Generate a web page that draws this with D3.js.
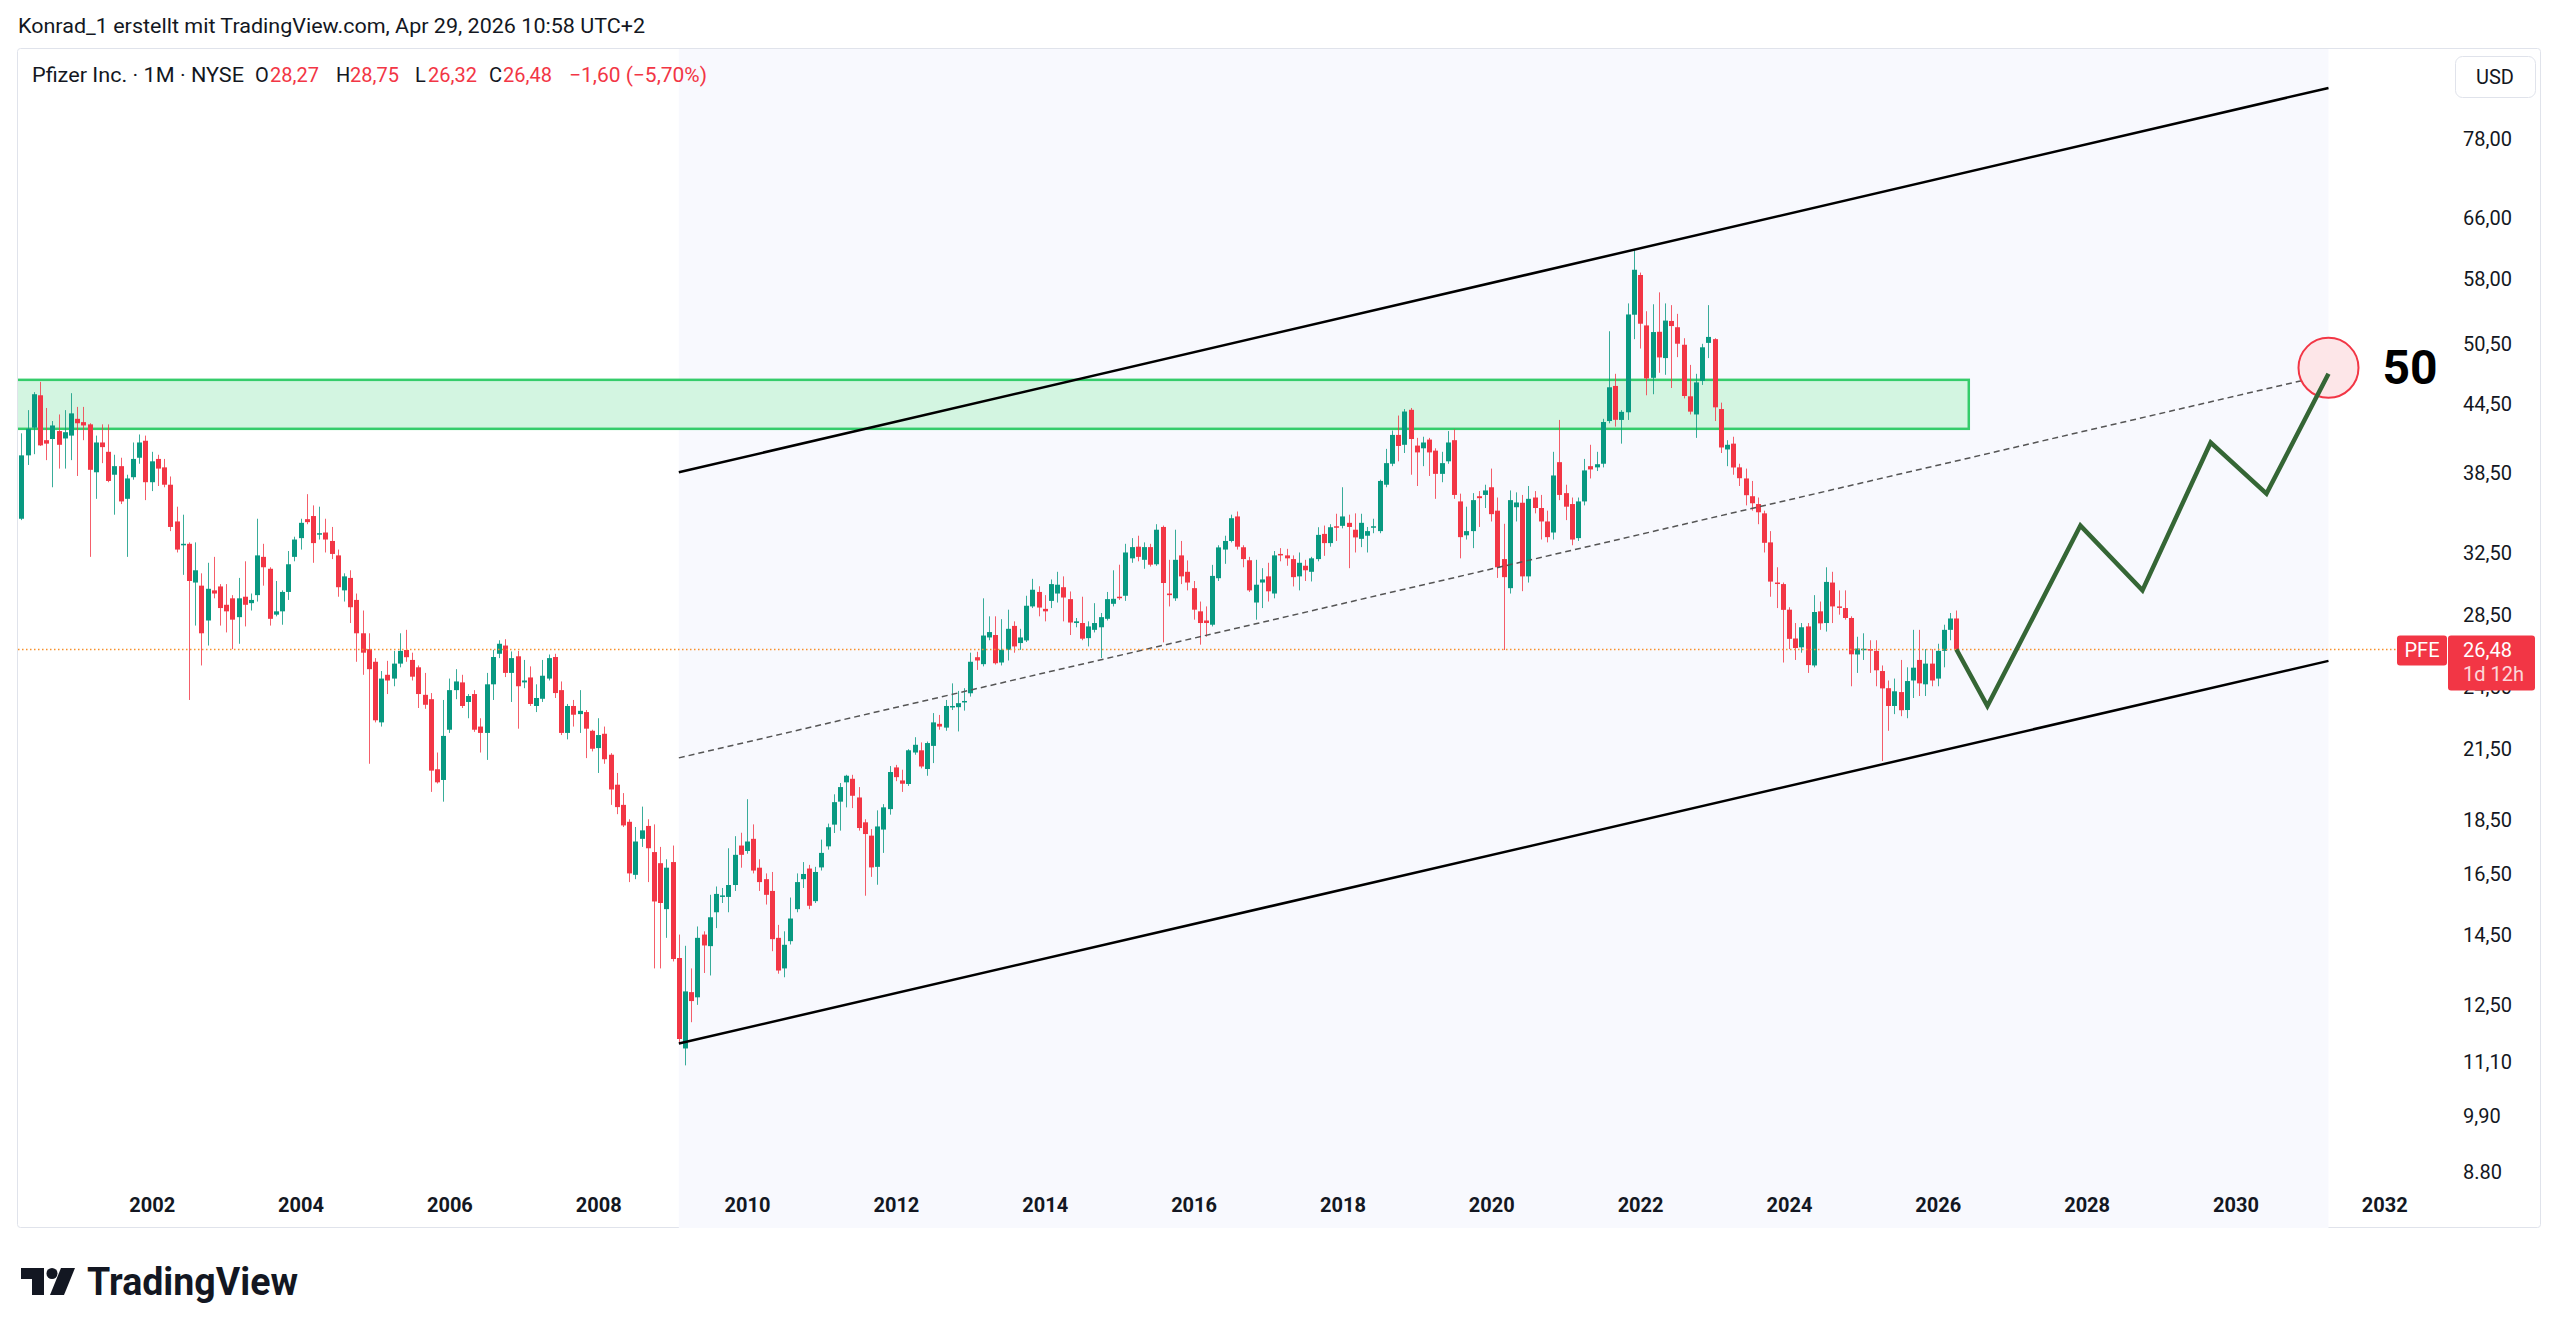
<!DOCTYPE html>
<html>
<head>
<meta charset="utf-8">
<script src="https://cdn.jsdelivr.net/npm/d3@7"></script>
<style>
  body { margin: 0; background: #fff; }
  svg text { font-family: Roboto, "Noto Sans", sans-serif; }
</style>
</head>
<body>
<svg id="chart" width="2560" height="1335"></svg>
<script>
// monthly bars, first bar = April 2000
var startYear = 2000, startMonth = 3;

var opens = [
  34.9, 39.9, 42.3, 45.3, 41.2, 41.3, 42.0, 41.35, 41.6,
  43.1, 42.8, 42.6, 38.5, 41.0, 40.2, 38.3, 39.0, 36.4, 38.1, 39.7, 41.15,
  37.7, 39.6, 38.9, 37.5, 34.7, 33.0, 33.1, 30.5, 30.3, 28.15, 30.0, 30.25,
  29.1, 29.5, 28.35, 29.6, 29.2, 29.7, 32.2, 31.4, 28.5, 28.7, 29.9, 32.2,
  33.5, 34.87, 35.1, 33.75, 33.9, 33.3, 32.3, 30.0, 30.8, 29.4, 27.4, 26.5,
  25.8, 22.7, 25.1, 24.9, 25.7, 26.45, 25.9, 25.5, 24.06, 23.84, 20.56, 20.1,
  22.35, 24.3, 24.7, 23.7, 24.1, 22.5, 22.2, 24.6, 26.24, 26.7, 25.2, 26.1,
  24.7, 24.96, 23.5, 23.86, 24.9, 26.06, 24.3, 22.2, 23.5, 23.1, 23.2, 22.3,
  21.5, 22.16, 21.2, 19.9, 19.07, 18.4, 16.45, 17.75, 18.24, 17.26, 16.86, 15.3,
  16.9, 13.8, 11.4, 12.84, 12.7, 14.5, 14.15, 15.2, 15.7, 15.7, 16.1, 17.5,
  17.3, 17.75, 16.7, 16.3, 15.9, 14.4, 13.5, 14.3, 15.3, 16.3, 16.67, 15.56,
  16.71, 17.47, 18.29, 19.2, 20.0, 20.15, 19.37, 18.38, 17.87, 16.73, 18.1, 18.9,
  20.64, 20.08, 19.93, 21.3, 21.4, 20.57, 21.6, 22.63, 22.45, 23.47, 23.44, 23.7,
  24.14, 26.05, 25.67, 27.16, 27.3, 25.76, 26.46, 27.83, 26.84, 26.99, 29.0, 29.9,
  28.85, 29.34, 29.8, 30.2, 29.45, 28.0, 28.0, 27.12, 27.6, 27.75, 28.25, 29.16,
  29.6, 29.66, 32.1, 32.9, 32.0, 32.87, 31.7, 34.3, 29.8, 29.5, 32.3, 31.2,
  30.14, 28.7, 28.15, 27.9, 30.78, 32.7, 33.3, 35.07, 32.86, 31.97, 29.24, 30.5,
  30.9, 29.8, 32.4, 32.3, 32.05, 30.9, 31.6, 31.2, 32.05, 33.8, 33.15, 34.35,
  34.38, 34.6, 34.1, 33.45, 33.67, 34.3, 34.0, 37.5, 39.2, 41.66, 40.8, 43.93,
  40.73, 40.5, 41.25, 40.3, 38.37, 39.4, 41.2, 36.2, 33.7, 34.0, 36.6, 36.7,
  37.3, 35.5, 32.05, 30.14, 35.76, 36.1, 30.9, 36.5, 35.7, 34.7, 33.9, 39.33,
  36.84, 36.0, 33.5, 36.2, 39.0, 38.9, 39.2, 42.9, 46.2, 43.0, 43.7, 53.7,
  58.4, 52.5, 47.0, 51.8, 49.0, 53.0, 52.3, 50.4, 45.2, 43.5, 46.7, 50.6,
  51.0, 44.0, 40.4, 40.9, 38.9, 38.0, 36.6, 36.0, 35.3, 33.2, 30.5, 30.4,
  28.8, 27.1, 26.6, 27.8, 25.6, 28.7, 28.0, 30.5, 29.0, 28.9, 28.3, 26.2,
  26.5, 26.5, 26.4, 25.3, 24.4, 23.5, 24.2, 23.3, 24.8, 25.9, 24.6, 25.7,
  24.9, 26.4, 27.6, 28.27
];

var highs = [
  41.8, 43.9, 45.6, 46.6, 44.1, 42.9, 43.5, 43.9, 45.5,
  44.2, 44.2, 42.7, 41.6, 42.6, 42.6, 39.95, 39.7, 38.3, 41.0, 41.7, 41.6,
  40.2, 39.95, 39.6, 38.16, 35.8, 35.2, 33.2, 33.2, 31.1, 31.8, 32.2, 30.4,
  30.4, 29.7, 30.8, 31.9, 29.8, 34.9, 33.1, 31.5, 30.6, 30.0, 32.6, 33.6,
  34.9, 36.76, 35.9, 35.8, 34.9, 34.3, 32.7, 31.1, 31.3, 29.8, 28.75, 27.4,
  26.0, 25.3, 25.85, 26.4, 27.4, 27.6, 26.3, 25.6, 25.2, 24.15, 21.3, 23.8,
  24.9, 25.4, 25.1, 24.1, 24.3, 22.9, 25.2, 26.46, 27.0, 27.06, 26.37, 26.4,
  25.9, 25.55, 24.6, 25.9, 26.2, 26.24, 24.75, 23.6, 23.8, 24.3, 23.3, 22.35,
  22.9, 22.5, 21.27, 20.4, 19.55, 18.5, 18.2, 19.0, 18.5, 18.3, 17.45, 17.0,
  17.5, 14.5, 14.16, 13.5, 14.75, 14.6, 15.77, 16.05, 16.0, 17.4, 17.85, 17.98,
  19.3, 18.3, 17.0, 16.5, 16.55, 14.8, 14.6, 15.68, 16.5, 16.9, 16.8, 16.73,
  17.72, 18.33, 19.5, 19.97, 20.32, 20.32, 19.8, 18.5, 18.12, 18.85, 19.1, 20.7,
  20.75, 20.54, 21.45, 22.0, 21.76, 21.8, 23.15, 23.06, 23.8, 24.65, 24.26, 24.4,
  26.3, 26.35, 29.5, 28.4, 28.4, 28.23, 28.8, 28.1, 27.66, 29.66, 30.74, 30.26,
  29.7, 30.7, 31.2, 30.9, 29.93, 28.3, 29.6, 28.1, 29.2, 28.6, 29.9, 31.3,
  31.67, 33.1, 33.5, 33.67, 33.2, 33.1, 34.5, 34.4, 32.0, 34.1, 33.3, 31.96,
  30.6, 29.3, 29.0, 31.66, 33.0, 33.67, 35.2, 35.44, 33.0, 32.2, 32.0, 31.44,
  31.8, 32.6, 32.8, 32.75, 32.3, 32.5, 32.0, 32.2, 34.28, 34.4, 34.5, 35.27,
  37.3, 35.2, 35.3, 35.27, 34.3, 34.9, 37.9, 40.45, 42.05, 43.4, 44.0, 44.1,
  41.4, 41.5, 41.4, 40.5, 40.2, 42.0, 42.17, 36.8, 35.8, 36.84, 37.0, 37.5,
  38.8, 36.5, 34.53, 37.05, 36.9, 36.7, 37.4, 37.0, 36.7, 35.5, 40.2, 43.0,
  37.5, 36.5, 36.5, 39.6, 40.8, 40.2, 43.1, 51.86, 47.4, 43.9, 55.0, 61.71,
  58.7, 54.1, 54.9, 56.3, 55.0, 54.8, 53.8, 51.1, 48.3, 47.4, 50.5, 54.8,
  51.1, 44.6, 41.2, 41.5, 39.2, 38.8, 37.8, 36.5, 35.5, 34.0, 31.5, 30.5,
  28.95, 28.0, 28.0, 28.0, 29.7, 29.3, 31.5, 31.2, 30.0, 30.0, 28.4, 27.2,
  27.4, 27.0, 27.0, 25.6, 24.8, 24.9, 25.9, 25.5, 27.6, 27.6, 26.5, 26.5,
  26.8, 27.9, 28.6, 28.75
];

var lows = [
  34.8, 39.1, 40.0, 40.7, 39.5, 37.3, 38.8, 38.8, 39.5,
  38.2, 41.2, 32.2, 36.4, 39.25, 37.7, 35.2, 36.0, 32.2, 37.9, 39.2, 36.3,
  37.0, 37.4, 37.3, 34.0, 32.5, 31.0, 23.8, 27.85, 25.6, 26.7, 29.5, 27.85,
  27.45, 26.5, 26.8, 27.8, 28.75, 29.3, 30.3, 27.85, 28.4, 27.9, 29.4, 31.9,
  32.7, 34.5, 31.8, 33.4, 32.5, 32.05, 29.6, 29.3, 28.0, 25.8, 25.1, 20.8,
  22.7, 22.5, 24.1, 24.5, 25.5, 25.8, 24.8, 23.4, 23.36, 19.6, 19.95, 19.2,
  22.2, 23.84, 23.4, 22.9, 22.25, 21.3, 20.97, 23.8, 26.0, 24.98, 23.7, 22.4,
  24.4, 23.5, 23.2, 23.7, 24.8, 23.9, 22.1, 21.9, 22.5, 22.2, 21.05, 21.35,
  20.4, 20.8, 19.07, 18.7, 18.2, 16.2, 16.3, 17.45, 16.2, 13.5, 13.5, 14.4,
  13.7, 11.55, 11.0, 12.05, 12.5, 13.37, 13.3, 14.7, 15.5, 15.2, 15.9, 16.7,
  17.2, 16.5, 15.9, 15.45, 14.0, 13.35, 13.25, 14.2, 15.2, 16.0, 15.3, 15.5,
  16.6, 17.35, 17.97, 18.06, 18.97, 18.94, 18.06, 15.74, 16.38, 16.11, 17.23, 18.68,
  20.05, 19.6, 19.85, 21.2, 20.6, 20.28, 20.83, 22.35, 22.3, 23.3, 22.27, 23.27,
  23.97, 25.36, 25.55, 27.0, 25.65, 25.6, 25.87, 26.3, 26.46, 26.9, 28.9, 28.4,
  28.1, 28.9, 29.24, 28.1, 27.3, 27.75, 27.0, 26.65, 27.45, 26.0, 28.15, 29.0,
  29.4, 29.34, 31.8, 31.9, 31.4, 31.55, 31.6, 26.88, 29.0, 29.34, 30.4, 30.0,
  28.2, 26.75, 27.2, 27.8, 30.6, 31.73, 33.2, 32.7, 31.5, 29.9, 28.2, 28.9,
  29.3, 29.5, 31.9, 31.6, 30.25, 30.0, 30.6, 30.57, 31.9, 32.27, 32.9, 33.3,
  34.2, 31.44, 32.5, 32.87, 32.5, 33.85, 33.85, 37.3, 39.0, 39.4, 40.1, 38.3,
  37.4, 39.0, 38.2, 36.4, 37.7, 39.2, 36.4, 32.1, 33.4, 32.8, 34.3, 35.7,
  34.7, 30.8, 26.45, 29.8, 34.7, 29.95, 30.5, 35.3, 33.4, 33.2, 33.4, 36.3,
  34.8, 33.0, 33.3, 35.9, 38.0, 38.6, 38.9, 42.7, 42.4, 40.9, 43.0, 51.0,
  50.0, 45.3, 45.4, 47.5, 47.3, 46.0, 49.1, 45.0, 43.5, 41.4, 46.3, 49.0,
  42.9, 40.1, 39.0, 38.3, 37.4, 35.9, 35.5, 34.5, 32.5, 29.6, 28.9, 25.76,
  26.5, 25.9, 26.3, 25.2, 25.5, 27.6, 27.5, 28.0, 28.5, 28.2, 24.5, 25.2,
  25.9, 25.2, 24.5, 20.92, 22.3, 23.1, 23.0, 22.9, 23.9, 24.0, 24.0, 24.5,
  24.5, 25.5, 27.0, 26.32
];

var closes = [
  39.9, 42.2, 45.4, 40.75, 40.9, 42.5, 40.8, 41.9, 43.6,
  42.7, 42.5, 38.7, 41.0, 40.6, 37.8, 39.0, 36.2, 38.0, 39.6, 41.0, 37.7,
  39.4, 38.8, 37.5, 34.3, 32.7, 33.1, 30.6, 31.3, 27.4, 30.1, 29.8, 28.9,
  28.7, 28.2, 29.5, 29.1, 29.4, 32.3, 31.5, 28.25, 28.7, 29.9, 31.7, 33.4,
  34.6, 34.65, 33.15, 33.85, 33.4, 32.4, 30.2, 30.9, 28.95, 27.4, 26.3, 25.4,
  22.8, 24.9, 24.8, 25.7, 26.4, 26.05, 25.0, 24.1, 23.56, 20.5, 20.0, 22.06,
  24.3, 24.75, 23.5, 24.0, 22.35, 22.2, 24.6, 26.06, 26.8, 25.2, 26.0, 24.5,
  24.8, 23.6, 23.9, 25.05, 26.0, 24.15, 22.2, 23.5, 23.07, 23.26, 22.4, 21.47,
  22.1, 21.0, 19.7, 18.98, 18.26, 16.5, 17.65, 18.07, 17.4, 15.55, 15.5, 16.7,
  13.77, 11.63, 12.86, 12.6, 14.4, 14.17, 15.04, 15.8, 15.75, 16.1, 17.16, 17.16,
  17.65, 16.6, 16.2, 15.77, 14.36, 13.44, 14.19, 15.0, 16.2, 16.48, 15.41, 16.55,
  17.23, 18.19, 19.18, 19.8, 20.28, 19.44, 18.16, 17.93, 16.71, 18.22, 18.97, 20.44,
  20.22, 19.94, 21.4, 21.65, 20.68, 21.73, 22.7, 22.5, 23.5, 23.5, 23.64, 23.75,
  25.8, 25.87, 27.27, 27.47, 25.72, 26.46, 27.66, 26.65, 27.16, 29.04, 30.04, 28.93,
  28.7, 30.4, 30.36, 29.55, 28.03, 28.1, 27.09, 27.8, 28.0, 28.35, 29.45, 29.47,
  29.57, 32.5, 32.87, 32.2, 32.87, 31.67, 34.1, 30.47, 29.7, 32.0, 30.9, 30.5,
  28.8, 28.0, 28.0, 30.93, 32.85, 33.3, 34.94, 32.9, 32.05, 30.0, 30.36, 30.7,
  29.94, 32.3, 32.35, 32.1, 30.85, 31.8, 31.3, 32.1, 33.73, 33.15, 34.28, 34.3,
  35.07, 34.3, 33.55, 34.6, 34.0, 34.35, 37.8, 39.25, 41.66, 40.7, 43.77, 41.3,
  40.15, 41.0, 40.15, 38.37, 39.25, 41.0, 36.7, 33.57, 34.0, 36.3, 36.45, 37.05,
  35.24, 31.5, 30.85, 36.3, 36.12, 30.9, 36.4, 35.7, 34.7, 33.57, 38.24, 36.7,
  35.8, 33.4, 36.2, 38.65, 38.73, 39.16, 42.81, 46.07, 43.01, 43.74, 53.73, 59.05,
  52.69, 46.94, 51.77, 49.07, 53.04, 52.43, 50.51, 45.23, 43.76, 46.55, 50.13, 51.24,
  44.16, 40.57, 40.8, 38.89, 38.02, 36.68, 36.06, 35.38, 33.17, 30.56, 30.47, 28.79,
  27.08, 26.56, 27.75, 25.62, 28.66, 27.98, 30.54, 29.0, 28.94, 28.3, 26.21, 26.53,
  26.52, 26.43, 25.34, 24.39, 23.5, 24.24, 23.29, 24.77, 25.48, 24.65, 25.7, 24.8,
  26.4, 27.6, 28.27, 26.48
];

// axis ticks
var xTickYears = [2002, 2004, 2006, 2008, 2010, 2012, 2014, 2016, 2018, 2020, 2022, 2024, 2026, 2028, 2030, 2032];
var yTicks = [78, 66, 58, 50.5, 44.5, 38.5, 32.5, 28.5, 24.5, 21.5, 18.5, 16.5, 14.5, 12.5, 11.1, 9.9, 8.8];
var yTickLabels = ["78,00", "66,00", "58,00", "50,50", "44,50", "38,50", "32,50", "28,50", "24,50",
                   "21,50", "18,50", "16,50", "14,50", "12,50", "11,10", "9,90", "8.80"];

// drawings on the chart
var zoneMonths = ["2000-03", "2026-06"];
var zonePrices = [46.8, 42.2];
var channelMonths = ["2009-02", "2031-04"];
var upperPrices = [38.5, 86.7];
var lowerPrices = [11.52, 25.85];
var midPrices = [21.06, 47.34];
var pathMonths = ["2026-04", "2026-09", "2027-12", "2028-10", "2029-09", "2030-06", "2031-04"];
var pathPrices = [26.48, 23.5, 34.4, 30.0, 41.0, 36.8, 47.4];
var targetMonth = "2031-04", targetPrice = 48.0, targetLabel = "50";
var lastPrice = 26.48;

var upColor = "#089981", downColor = "#f23645";

function mi(yr, m) { return yr * 12 + m; }
function parseMonth(s) { var p = s.split("-"); return mi(+p[0], +p[1] - 1); }

var pane = {left: 18, top: 49, right: 2541, bottom: 1228};
var plotRight = 2447;

var svg = d3.select("#chart");

// scales: one unit = one month, price on a log scale
var x = d3.scaleLinear().domain([mi(2002, 0), mi(2032, 0)]).range([151.7, 2384.3]);
var y = d3.scaleLog().domain([8.8, 78]).range([1171, 138]);

var candles = closes.map(function(c, i) {
  return {t: mi(startYear, startMonth) + i, o: opens[i], h: highs[i], l: lows[i], c: c};
});

svg.append("defs").append("clipPath").attr("id", "plotClip")
  .append("rect")
    .attr("x", pane.left).attr("y", pane.top)
    .attr("width", plotRight - pane.left).attr("height", pane.bottom - pane.top);

// header
svg.append("text")
  .attr("x", 18).attr("y", 33)
  .attr("textLength", 627).attr("lengthAdjust", "spacingAndGlyphs")
  .style("font-size", "20px").style("fill", "#131722")
  .text("Konrad_1 erstellt mit TradingView.com, Apr 29, 2026 10:58 UTC+2");

// pane frame
svg.append("rect")
  .attr("x", pane.left - 0.5).attr("y", pane.top - 0.5)
  .attr("width", pane.right - pane.left).attr("height", pane.bottom - pane.top)
  .attr("rx", 3)
  .style("fill", "none").style("stroke", "#e0e3eb");

var plot = svg.append("g").attr("clip-path", "url(#plotClip)");

// shaded band behind the channel
var chX0 = x(parseMonth(channelMonths[0])), chX1 = x(parseMonth(channelMonths[1]));
plot.append("rect")
  .attr("x", chX0).attr("y", pane.top)
  .attr("width", chX1 - chX0).attr("height", pane.bottom - pane.top)
  .style("fill", "#f8f9fe");

// green resistance zone
var zX0 = x(parseMonth(zoneMonths[0])), zX1 = x(parseMonth(zoneMonths[1]));
plot.append("rect")
  .attr("x", zX0).attr("y", y(zonePrices[0]))
  .attr("width", zX1 - zX0).attr("height", y(zonePrices[1]) - y(zonePrices[0]))
  .style("fill", "#d3f5e1").style("stroke", "#35cc6b").style("stroke-width", 2.5);

// candles
var bars = plot.append("g").selectAll(".bar")
  .data(candles).enter()
  .append("g")
    .attr("class", "bar")
    .style("fill", function(d) { return d.c >= d.o ? upColor : downColor; });

bars.append("rect")
  .attr("x", function(d) { return Math.round(x(d.t)); })
  .attr("width", 1)
  .attr("y", function(d) { return y(d.h); })
  .attr("height", function(d) { return Math.max(1, y(d.l) - y(d.h)); })
  .style("opacity", 0.8);

bars.append("rect")
  .attr("x", function(d) { return Math.round(x(d.t)) - 2; })
  .attr("width", 5)
  .attr("y", function(d) { return y(Math.max(d.o, d.c)); })
  .attr("height", function(d) { return Math.max(1.5, Math.abs(y(d.o) - y(d.c))); });

// channel lines
var chLine = d3.line()
  .x(function(d) { return x(d[0]); })
  .y(function(d) { return y(d[1]); });
var chT = channelMonths.map(parseMonth);

plot.append("path")
  .attr("d", chLine(chT.map(function(t, i) { return [t, midPrices[i]]; })))
  .style("fill", "none").style("stroke", "#555").style("stroke-width", 1.5)
  .style("stroke-dasharray", "6,4");

[upperPrices, lowerPrices].forEach(function(p) {
  plot.append("path")
    .attr("d", chLine(chT.map(function(t, i) { return [t, p[i]]; })))
    .style("fill", "none").style("stroke", "#000").style("stroke-width", 2.5);
});

// last price line
plot.append("line")
  .attr("x1", pane.left).attr("x2", 2397)
  .attr("y1", Math.round(y(lastPrice)) + 0.5).attr("y2", Math.round(y(lastPrice)) + 0.5)
  .style("stroke", "#f7902b").style("stroke-width", 1.5)
  .style("stroke-dasharray", "1.5,2.5");

// target circle
var tX = x(parseMonth(targetMonth)), tY = y(targetPrice);
plot.append("circle")
  .attr("cx", tX).attr("cy", tY).attr("r", 30)
  .style("fill", "#fde6e8").style("stroke", "#f23645").style("stroke-width", 2);

// projected path
plot.append("path")
  .attr("d", chLine(pathMonths.map(function(m, i) { return [parseMonth(m), pathPrices[i]]; })))
  .style("fill", "none").style("stroke", "#356635").style("stroke-width", 4.5)
  .style("stroke-linejoin", "miter");

svg.append("text")
  .attr("x", tX + 54).attr("y", tY + 16)
  .style("font-size", "48px").style("font-weight", "bold").style("fill", "#000")
  .text(targetLabel);

// axes
var xAxis = d3.axisBottom(x)
  .tickValues(xTickYears.map(function(v) { return mi(v, 0); }))
  .tickFormat(function(v) { return Math.round(v / 12); })
  .tickSize(0);
var gx = svg.append("g").attr("transform", "translate(0,1205)").call(xAxis);
gx.select(".domain").remove();
gx.selectAll("text")
  .attr("y", 0).attr("dy", "0.35em")
  .style("font-family", "Roboto, sans-serif")
  .style("font-size", "20px").style("font-weight", "bold").style("fill", "#131722");

var yAxis = d3.axisRight(y)
  .tickValues(yTicks)
  .tickFormat(function(d, i) { return yTickLabels[i]; })
  .tickSize(0);
var gy = svg.append("g").attr("transform", "translate(2463,0)").call(yAxis);
gy.select(".domain").remove();
gy.selectAll("text")
  .attr("x", 0).attr("dy", "0.35em")
  .style("text-anchor", "start")
  .style("font-family", "Roboto, sans-serif")
  .style("font-size", "20px").style("fill", "#131722");

// currency box
svg.append("rect")
  .attr("x", 2455.5).attr("y", 56.5).attr("width", 80).attr("height", 41).attr("rx", 7)
  .style("fill", "#fff").style("stroke", "#e0e3eb");
svg.append("text")
  .attr("x", 2495).attr("y", 77).attr("dy", "0.35em")
  .style("text-anchor", "middle").style("font-size", "20px").style("fill", "#131722")
  .text("USD");

// last price labels
var lpY = y(lastPrice);
svg.append("rect")
  .attr("x", 2397).attr("y", lpY - 14).attr("width", 50).attr("height", 30).attr("rx", 3)
  .style("fill", downColor);
svg.append("text")
  .attr("x", 2422).attr("y", lpY + 1).attr("dy", "0.35em")
  .style("text-anchor", "middle").style("font-size", "20px").style("fill", "#fff")
  .text("PFE");
svg.append("rect")
  .attr("x", 2448).attr("y", lpY - 14).attr("width", 87).attr("height", 55).attr("rx", 3)
  .style("fill", downColor);
svg.append("text")
  .attr("x", 2463).attr("y", lpY + 1).attr("dy", "0.35em")
  .style("font-size", "20px").style("fill", "#fff")
  .text("26,48");
svg.append("text")
  .attr("x", 2463).attr("y", lpY + 25).attr("dy", "0.35em")
  .style("font-size", "20px").style("fill", "#fff").style("opacity", 0.8)
  .text("1d 12h");

// legend line
var legend = svg.append("text").attr("y", 82).style("font-size", "20px");
var legendParts = [
  {x: 32, w: 212, t: "Pfizer Inc. \u00b7 1M \u00b7 NYSE", c: "#131722"},
  {x: 255, t: "O", c: "#131722"}, {x: 270, t: "28,27", c: downColor},
  {x: 336, t: "H", c: "#131722"}, {x: 350, t: "28,75", c: downColor},
  {x: 415, t: "L", c: "#131722"}, {x: 428, t: "26,32", c: downColor},
  {x: 489, t: "C", c: "#131722"}, {x: 503, t: "26,48", c: downColor},
  {x: 569, w: 138, t: "\u22121,60 (\u22125,70%)", c: downColor}
];
legendParts.forEach(function(p) {
  var ts = legend.append("tspan").attr("x", p.x).style("fill", p.c).text(p.t);
  if (p.w) ts.attr("textLength", p.w).attr("lengthAdjust", "spacingAndGlyphs");
});

// logo
var logo = svg.append("g").style("fill", "#131722");
logo.append("rect").attr("x", 21).attr("y", 1268).attr("width", 23).attr("height", 11);
logo.append("rect").attr("x", 32).attr("y", 1268).attr("width", 12).attr("height", 27);
logo.append("circle").attr("cx", 52).attr("cy", 1273.5).attr("r", 5.5);
logo.append("path").attr("d", "M61,1268 L75,1268 L64,1295 L50,1295 Z");
logo.append("text")
  .attr("x", 87).attr("y", 1295)
  .attr("textLength", 211).attr("lengthAdjust", "spacingAndGlyphs")
  .style("font-size", "38px").style("font-weight", "bold")
  .text("TradingView");
</script>
</body>
</html>
